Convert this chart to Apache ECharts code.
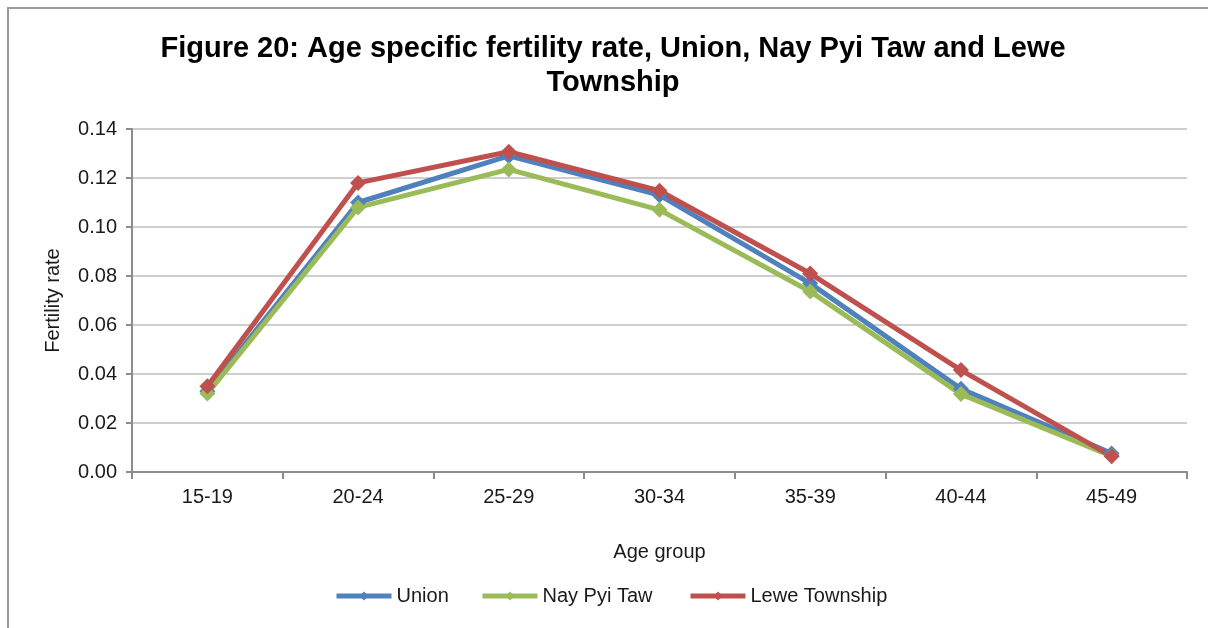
<!DOCTYPE html>
<html>
<head>
<meta charset="utf-8">
<script src="https://cdn.jsdelivr.net/npm/echarts@6/dist/echarts.min.js"></script>
<style>
  html, body { margin: 0; padding: 0; background: #ffffff; }
  #chart { width: 1208px; height: 628px; }
</style>
</head>
<body>
<div id="chart"></div>
<script>
// Age groups on the x axis
const ageGroups = ['15-19', '20-24', '25-29', '30-34', '35-39', '40-44', '45-49'];

// Age specific fertility rates per area
const unionRates = [0.033, 0.110, 0.129, 0.113, 0.077, 0.034, 0.0076];
const nayPyiTawRates = [0.032, 0.108, 0.1235, 0.107, 0.0737, 0.0318, 0.0065];
const leweRates = [0.035, 0.118, 0.1307, 0.1148, 0.081, 0.0416, 0.0064];

// Y axis ticks
const yMin = 0, yMax = 0.14, yStep = 0.02;

const FONT = '"Liberation Sans", Arial, sans-serif';
const TEXT_COLOR = '#1a1a1a';

const chart = echarts.init(document.getElementById('chart'), null, { renderer: 'canvas' });

function lineSeries(name, data, color) {
  return {
    name: name,
    type: 'line',
    data: data,
    symbol: 'diamond',
    symbolSize: 16,
    showSymbol: true,
    lineStyle: { width: 5, color: color },
    itemStyle: { color: color },
    emphasis: { disabled: true },
    animation: false
  };
}

// one legend block per series so each entry sits at its own spot
function legendBlock(name, left) {
  return {
    left: left,
    top: 586,
    padding: 0,
    itemWidth: 55,
    itemHeight: 11,
    lineStyle: { width: 5 },
    textStyle: { fontFamily: FONT, fontSize: 20, color: TEXT_COLOR },
    data: [name]
  };
}

chart.setOption({
  backgroundColor: '#ffffff',
  textStyle: { fontFamily: FONT },
  graphic: [
    {
      // chart frame (left and top edges visible)
      type: 'rect',
      shape: { x: 8, y: 8, width: 1300, height: 700 },
      style: { fill: 'none', stroke: '#9a9a9a', lineWidth: 2 },
      silent: true
    }
  ],
  title: {
    text: 'Figure 20: Age specific fertility rate, Union, Nay Pyi Taw and Lewe\nTownship',
    left: 608,
    textAlign: 'center',
    top: 27,
    textStyle: {
      fontFamily: FONT,
      fontSize: 29,
      fontWeight: 'bold',
      color: '#000000',
      lineHeight: 34
    }
  },
  legend: [
    legendBlock('Union', 334),
    legendBlock('Nay Pyi Taw', 480),
    legendBlock('Lewe Township', 688)
  ],
  grid: {
    left: 132,
    right: 21,
    top: 129,
    bottom: 156,
    containLabel: false
  },
  xAxis: {
    type: 'category',
    data: ageGroups,
    boundaryGap: true,
    name: 'Age group',
    nameLocation: 'middle',
    nameGap: 70,
    nameTextStyle: { fontFamily: FONT, fontSize: 20, color: TEXT_COLOR },
    axisLine: { lineStyle: { color: '#8c8c8c', width: 2 } },
    axisTick: { show: true, length: 7, lineStyle: { color: '#8c8c8c', width: 2 }, alignWithLabel: false },
    axisLabel: { fontFamily: FONT, fontSize: 20, color: TEXT_COLOR, margin: 15 },
    splitLine: { show: false }
  },
  yAxis: {
    type: 'value',
    min: yMin,
    max: yMax,
    interval: yStep,
    name: 'Fertility rate',
    nameLocation: 'middle',
    nameRotate: 90,
    nameGap: 69,
    nameTextStyle: { fontFamily: FONT, fontSize: 20, color: TEXT_COLOR },
    axisLine: { show: true, lineStyle: { color: '#8c8c8c', width: 2 } },
    axisTick: { show: true, length: 6, lineStyle: { color: '#8c8c8c', width: 2 } },
    axisLabel: {
      fontFamily: FONT, fontSize: 20, color: TEXT_COLOR, margin: 15,
      formatter: v => v.toFixed(2)
    },
    splitLine: { show: true, lineStyle: { color: '#cfcfcf', width: 2 } }
  },
  series: [
    lineSeries('Union', unionRates, '#4f81bd'),
    lineSeries('Nay Pyi Taw', nayPyiTawRates, '#9bbb59'),
    lineSeries('Lewe Township', leweRates, '#c0504d')
  ]
});
</script>
</body>
</html>
